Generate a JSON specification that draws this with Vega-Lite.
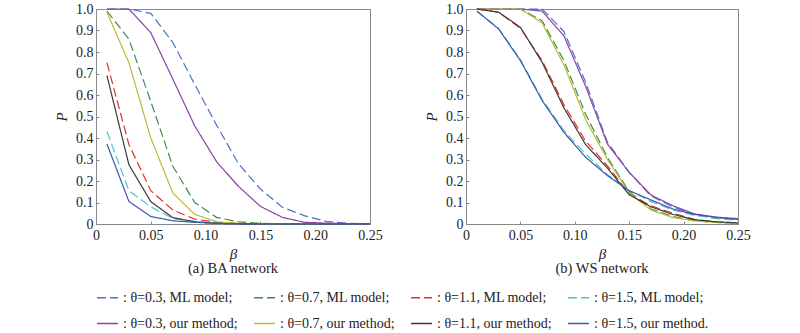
{
  "$schema": "https://vega.github.io/schema/vega-lite/v6.json",
  "padding": {"left": 54, "top": 1, "right": 10, "bottom": 0},
  "background": "white",
  "datasets": {
    "BA": [
      {"series": ": θ=0.3, ML model;", "beta": 0.01, "P": 1.0},
      {"series": ": θ=0.3, ML model;", "beta": 0.03, "P": 1.0},
      {"series": ": θ=0.3, ML model;", "beta": 0.05, "P": 0.98},
      {"series": ": θ=0.3, ML model;", "beta": 0.07, "P": 0.845},
      {"series": ": θ=0.3, ML model;", "beta": 0.09, "P": 0.65},
      {"series": ": θ=0.3, ML model;", "beta": 0.11, "P": 0.46},
      {"series": ": θ=0.3, ML model;", "beta": 0.13, "P": 0.28},
      {"series": ": θ=0.3, ML model;", "beta": 0.15, "P": 0.163},
      {"series": ": θ=0.3, ML model;", "beta": 0.17, "P": 0.078},
      {"series": ": θ=0.3, ML model;", "beta": 0.19, "P": 0.039},
      {"series": ": θ=0.3, ML model;", "beta": 0.21, "P": 0.012},
      {"series": ": θ=0.3, ML model;", "beta": 0.23, "P": 0.003},
      {"series": ": θ=0.3, ML model;", "beta": 0.25, "P": 0.001},
      {"series": ": θ=0.7, ML model;", "beta": 0.01, "P": 0.99},
      {"series": ": θ=0.7, ML model;", "beta": 0.03, "P": 0.86},
      {"series": ": θ=0.7, ML model;", "beta": 0.05, "P": 0.57},
      {"series": ": θ=0.7, ML model;", "beta": 0.07, "P": 0.27},
      {"series": ": θ=0.7, ML model;", "beta": 0.09, "P": 0.1},
      {"series": ": θ=0.7, ML model;", "beta": 0.11, "P": 0.031},
      {"series": ": θ=0.7, ML model;", "beta": 0.13, "P": 0.01},
      {"series": ": θ=0.7, ML model;", "beta": 0.15, "P": 0.003},
      {"series": ": θ=0.7, ML model;", "beta": 0.17, "P": 0.001},
      {"series": ": θ=0.7, ML model;", "beta": 0.19, "P": 0},
      {"series": ": θ=0.7, ML model;", "beta": 0.21, "P": 0},
      {"series": ": θ=0.7, ML model;", "beta": 0.23, "P": 0},
      {"series": ": θ=0.7, ML model;", "beta": 0.25, "P": 0},
      {"series": ": θ=1.1, ML model;", "beta": 0.01, "P": 0.75},
      {"series": ": θ=1.1, ML model;", "beta": 0.03, "P": 0.37},
      {"series": ": θ=1.1, ML model;", "beta": 0.05, "P": 0.155},
      {"series": ": θ=1.1, ML model;", "beta": 0.07, "P": 0.065},
      {"series": ": θ=1.1, ML model;", "beta": 0.09, "P": 0.023},
      {"series": ": θ=1.1, ML model;", "beta": 0.11, "P": 0.008},
      {"series": ": θ=1.1, ML model;", "beta": 0.13, "P": 0.003},
      {"series": ": θ=1.1, ML model;", "beta": 0.15, "P": 0.001},
      {"series": ": θ=1.1, ML model;", "beta": 0.17, "P": 0},
      {"series": ": θ=1.1, ML model;", "beta": 0.19, "P": 0},
      {"series": ": θ=1.1, ML model;", "beta": 0.21, "P": 0},
      {"series": ": θ=1.1, ML model;", "beta": 0.23, "P": 0},
      {"series": ": θ=1.1, ML model;", "beta": 0.25, "P": 0},
      {"series": ": θ=1.5, ML model;", "beta": 0.01, "P": 0.43},
      {"series": ": θ=1.5, ML model;", "beta": 0.03, "P": 0.155},
      {"series": ": θ=1.5, ML model;", "beta": 0.05, "P": 0.08},
      {"series": ": θ=1.5, ML model;", "beta": 0.07, "P": 0.025},
      {"series": ": θ=1.5, ML model;", "beta": 0.09, "P": 0.012},
      {"series": ": θ=1.5, ML model;", "beta": 0.11, "P": 0.005},
      {"series": ": θ=1.5, ML model;", "beta": 0.13, "P": 0.002},
      {"series": ": θ=1.5, ML model;", "beta": 0.15, "P": 0.001},
      {"series": ": θ=1.5, ML model;", "beta": 0.17, "P": 0},
      {"series": ": θ=1.5, ML model;", "beta": 0.19, "P": 0},
      {"series": ": θ=1.5, ML model;", "beta": 0.21, "P": 0},
      {"series": ": θ=1.5, ML model;", "beta": 0.23, "P": 0},
      {"series": ": θ=1.5, ML model;", "beta": 0.25, "P": 0},
      {"series": ": θ=0.3, our method;", "beta": 0.01, "P": 1.0},
      {"series": ": θ=0.3, our method;", "beta": 0.03, "P": 1.0},
      {"series": ": θ=0.3, our method;", "beta": 0.05, "P": 0.89},
      {"series": ": θ=0.3, our method;", "beta": 0.07, "P": 0.675},
      {"series": ": θ=0.3, our method;", "beta": 0.09, "P": 0.457},
      {"series": ": θ=0.3, our method;", "beta": 0.11, "P": 0.29},
      {"series": ": θ=0.3, our method;", "beta": 0.13, "P": 0.175},
      {"series": ": θ=0.3, our method;", "beta": 0.15, "P": 0.082},
      {"series": ": θ=0.3, our method;", "beta": 0.17, "P": 0.031},
      {"series": ": θ=0.3, our method;", "beta": 0.19, "P": 0.008},
      {"series": ": θ=0.3, our method;", "beta": 0.21, "P": 0.004},
      {"series": ": θ=0.3, our method;", "beta": 0.23, "P": 0.002},
      {"series": ": θ=0.3, our method;", "beta": 0.25, "P": 0.001},
      {"series": ": θ=0.7, our method;", "beta": 0.01, "P": 0.985},
      {"series": ": θ=0.7, our method;", "beta": 0.03, "P": 0.75},
      {"series": ": θ=0.7, our method;", "beta": 0.05, "P": 0.4},
      {"series": ": θ=0.7, our method;", "beta": 0.07, "P": 0.145},
      {"series": ": θ=0.7, our method;", "beta": 0.09, "P": 0.045},
      {"series": ": θ=0.7, our method;", "beta": 0.11, "P": 0.01},
      {"series": ": θ=0.7, our method;", "beta": 0.13, "P": 0.003},
      {"series": ": θ=0.7, our method;", "beta": 0.15, "P": 0.001},
      {"series": ": θ=0.7, our method;", "beta": 0.17, "P": 0},
      {"series": ": θ=0.7, our method;", "beta": 0.19, "P": 0},
      {"series": ": θ=0.7, our method;", "beta": 0.21, "P": 0},
      {"series": ": θ=0.7, our method;", "beta": 0.23, "P": 0},
      {"series": ": θ=0.7, our method;", "beta": 0.25, "P": 0},
      {"series": ": θ=1.1, our method;", "beta": 0.01, "P": 0.69},
      {"series": ": θ=1.1, our method;", "beta": 0.03, "P": 0.276},
      {"series": ": θ=1.1, our method;", "beta": 0.05, "P": 0.104},
      {"series": ": θ=1.1, our method;", "beta": 0.07, "P": 0.03},
      {"series": ": θ=1.1, our method;", "beta": 0.09, "P": 0.01},
      {"series": ": θ=1.1, our method;", "beta": 0.11, "P": 0.003},
      {"series": ": θ=1.1, our method;", "beta": 0.13, "P": 0.001},
      {"series": ": θ=1.1, our method;", "beta": 0.15, "P": 0},
      {"series": ": θ=1.1, our method;", "beta": 0.17, "P": 0},
      {"series": ": θ=1.1, our method;", "beta": 0.19, "P": 0},
      {"series": ": θ=1.1, our method;", "beta": 0.21, "P": 0},
      {"series": ": θ=1.1, our method;", "beta": 0.23, "P": 0},
      {"series": ": θ=1.1, our method;", "beta": 0.25, "P": 0},
      {"series": ": θ=1.5, our method.", "beta": 0.01, "P": 0.372},
      {"series": ": θ=1.5, our method.", "beta": 0.03, "P": 0.105},
      {"series": ": θ=1.5, our method.", "beta": 0.05, "P": 0.035},
      {"series": ": θ=1.5, our method.", "beta": 0.07, "P": 0.015},
      {"series": ": θ=1.5, our method.", "beta": 0.09, "P": 0.008},
      {"series": ": θ=1.5, our method.", "beta": 0.11, "P": 0.003},
      {"series": ": θ=1.5, our method.", "beta": 0.13, "P": 0.001},
      {"series": ": θ=1.5, our method.", "beta": 0.15, "P": 0},
      {"series": ": θ=1.5, our method.", "beta": 0.17, "P": 0},
      {"series": ": θ=1.5, our method.", "beta": 0.19, "P": 0},
      {"series": ": θ=1.5, our method.", "beta": 0.21, "P": 0},
      {"series": ": θ=1.5, our method.", "beta": 0.23, "P": 0},
      {"series": ": θ=1.5, our method.", "beta": 0.25, "P": 0}
    ],
    "WS": [
      {"series": ": θ=0.3, ML model;", "beta": 0.01, "P": 1.0},
      {"series": ": θ=0.3, ML model;", "beta": 0.03, "P": 1.0},
      {"series": ": θ=0.3, ML model;", "beta": 0.05, "P": 1.0},
      {"series": ": θ=0.3, ML model;", "beta": 0.07, "P": 1.0},
      {"series": ": θ=0.3, ML model;", "beta": 0.09, "P": 0.895},
      {"series": ": θ=0.3, ML model;", "beta": 0.11, "P": 0.66},
      {"series": ": θ=0.3, ML model;", "beta": 0.13, "P": 0.38},
      {"series": ": θ=0.3, ML model;", "beta": 0.15, "P": 0.24},
      {"series": ": θ=0.3, ML model;", "beta": 0.17, "P": 0.13},
      {"series": ": θ=0.3, ML model;", "beta": 0.19, "P": 0.08},
      {"series": ": θ=0.3, ML model;", "beta": 0.21, "P": 0.045},
      {"series": ": θ=0.3, ML model;", "beta": 0.23, "P": 0.03},
      {"series": ": θ=0.3, ML model;", "beta": 0.25, "P": 0.022},
      {"series": ": θ=0.7, ML model;", "beta": 0.01, "P": 1.0},
      {"series": ": θ=0.7, ML model;", "beta": 0.03, "P": 1.0},
      {"series": ": θ=0.7, ML model;", "beta": 0.05, "P": 1.0},
      {"series": ": θ=0.7, ML model;", "beta": 0.07, "P": 0.945},
      {"series": ": θ=0.7, ML model;", "beta": 0.09, "P": 0.76},
      {"series": ": θ=0.7, ML model;", "beta": 0.11, "P": 0.51},
      {"series": ": θ=0.7, ML model;", "beta": 0.13, "P": 0.31},
      {"series": ": θ=0.7, ML model;", "beta": 0.15, "P": 0.15},
      {"series": ": θ=0.7, ML model;", "beta": 0.17, "P": 0.07},
      {"series": ": θ=0.7, ML model;", "beta": 0.19, "P": 0.035},
      {"series": ": θ=0.7, ML model;", "beta": 0.21, "P": 0.015},
      {"series": ": θ=0.7, ML model;", "beta": 0.23, "P": 0.007},
      {"series": ": θ=0.7, ML model;", "beta": 0.25, "P": 0.003},
      {"series": ": θ=1.1, ML model;", "beta": 0.01, "P": 1.0},
      {"series": ": θ=1.1, ML model;", "beta": 0.03, "P": 0.985},
      {"series": ": θ=1.1, ML model;", "beta": 0.05, "P": 0.91},
      {"series": ": θ=1.1, ML model;", "beta": 0.07, "P": 0.76},
      {"series": ": θ=1.1, ML model;", "beta": 0.09, "P": 0.555},
      {"series": ": θ=1.1, ML model;", "beta": 0.11, "P": 0.385},
      {"series": ": θ=1.1, ML model;", "beta": 0.13, "P": 0.27},
      {"series": ": θ=1.1, ML model;", "beta": 0.15, "P": 0.14},
      {"series": ": θ=1.1, ML model;", "beta": 0.17, "P": 0.085},
      {"series": ": θ=1.1, ML model;", "beta": 0.19, "P": 0.05},
      {"series": ": θ=1.1, ML model;", "beta": 0.21, "P": 0.022},
      {"series": ": θ=1.1, ML model;", "beta": 0.23, "P": 0.01},
      {"series": ": θ=1.1, ML model;", "beta": 0.25, "P": 0.005},
      {"series": ": θ=1.5, ML model;", "beta": 0.01, "P": 0.99},
      {"series": ": θ=1.5, ML model;", "beta": 0.03, "P": 0.91},
      {"series": ": θ=1.5, ML model;", "beta": 0.05, "P": 0.765},
      {"series": ": θ=1.5, ML model;", "beta": 0.07, "P": 0.58},
      {"series": ": θ=1.5, ML model;", "beta": 0.09, "P": 0.435},
      {"series": ": θ=1.5, ML model;", "beta": 0.11, "P": 0.325},
      {"series": ": θ=1.5, ML model;", "beta": 0.13, "P": 0.23},
      {"series": ": θ=1.5, ML model;", "beta": 0.15, "P": 0.155},
      {"series": ": θ=1.5, ML model;", "beta": 0.17, "P": 0.105},
      {"series": ": θ=1.5, ML model;", "beta": 0.19, "P": 0.065},
      {"series": ": θ=1.5, ML model;", "beta": 0.21, "P": 0.04},
      {"series": ": θ=1.5, ML model;", "beta": 0.23, "P": 0.025},
      {"series": ": θ=1.5, ML model;", "beta": 0.25, "P": 0.018},
      {"series": ": θ=0.3, our method;", "beta": 0.01, "P": 1.0},
      {"series": ": θ=0.3, our method;", "beta": 0.03, "P": 1.0},
      {"series": ": θ=0.3, our method;", "beta": 0.05, "P": 1.0},
      {"series": ": θ=0.3, our method;", "beta": 0.07, "P": 0.99},
      {"series": ": θ=0.3, our method;", "beta": 0.09, "P": 0.875},
      {"series": ": θ=0.3, our method;", "beta": 0.11, "P": 0.64},
      {"series": ": θ=0.3, our method;", "beta": 0.13, "P": 0.372},
      {"series": ": θ=0.3, our method;", "beta": 0.15, "P": 0.24},
      {"series": ": θ=0.3, our method;", "beta": 0.17, "P": 0.135},
      {"series": ": θ=0.3, our method;", "beta": 0.19, "P": 0.085},
      {"series": ": θ=0.3, our method;", "beta": 0.21, "P": 0.047},
      {"series": ": θ=0.3, our method;", "beta": 0.23, "P": 0.032},
      {"series": ": θ=0.3, our method;", "beta": 0.25, "P": 0.025},
      {"series": ": θ=0.7, our method;", "beta": 0.01, "P": 1.0},
      {"series": ": θ=0.7, our method;", "beta": 0.03, "P": 1.0},
      {"series": ": θ=0.7, our method;", "beta": 0.05, "P": 1.0},
      {"series": ": θ=0.7, our method;", "beta": 0.07, "P": 0.935},
      {"series": ": θ=0.7, our method;", "beta": 0.09, "P": 0.74},
      {"series": ": θ=0.7, our method;", "beta": 0.11, "P": 0.485},
      {"series": ": θ=0.7, our method;", "beta": 0.13, "P": 0.3},
      {"series": ": θ=0.7, our method;", "beta": 0.15, "P": 0.145},
      {"series": ": θ=0.7, our method;", "beta": 0.17, "P": 0.065},
      {"series": ": θ=0.7, our method;", "beta": 0.19, "P": 0.03},
      {"series": ": θ=0.7, our method;", "beta": 0.21, "P": 0.015},
      {"series": ": θ=0.7, our method;", "beta": 0.23, "P": 0.007},
      {"series": ": θ=0.7, our method;", "beta": 0.25, "P": 0.003},
      {"series": ": θ=1.1, our method;", "beta": 0.01, "P": 1.0},
      {"series": ": θ=1.1, our method;", "beta": 0.03, "P": 0.985},
      {"series": ": θ=1.1, our method;", "beta": 0.05, "P": 0.915},
      {"series": ": θ=1.1, our method;", "beta": 0.07, "P": 0.752},
      {"series": ": θ=1.1, our method;", "beta": 0.09, "P": 0.54},
      {"series": ": θ=1.1, our method;", "beta": 0.11, "P": 0.369},
      {"series": ": θ=1.1, our method;", "beta": 0.13, "P": 0.26},
      {"series": ": θ=1.1, our method;", "beta": 0.15, "P": 0.136},
      {"series": ": θ=1.1, our method;", "beta": 0.17, "P": 0.08},
      {"series": ": θ=1.1, our method;", "beta": 0.19, "P": 0.045},
      {"series": ": θ=1.1, our method;", "beta": 0.21, "P": 0.02},
      {"series": ": θ=1.1, our method;", "beta": 0.23, "P": 0.01},
      {"series": ": θ=1.1, our method;", "beta": 0.25, "P": 0.005},
      {"series": ": θ=1.5, our method.", "beta": 0.01, "P": 0.99},
      {"series": ": θ=1.5, our method.", "beta": 0.03, "P": 0.907},
      {"series": ": θ=1.5, our method.", "beta": 0.05, "P": 0.76},
      {"series": ": θ=1.5, our method.", "beta": 0.07, "P": 0.574},
      {"series": ": θ=1.5, our method.", "beta": 0.09, "P": 0.426},
      {"series": ": θ=1.5, our method.", "beta": 0.11, "P": 0.31},
      {"series": ": θ=1.5, our method.", "beta": 0.13, "P": 0.225},
      {"series": ": θ=1.5, our method.", "beta": 0.15, "P": 0.155},
      {"series": ": θ=1.5, our method.", "beta": 0.17, "P": 0.112},
      {"series": ": θ=1.5, our method.", "beta": 0.19, "P": 0.07},
      {"series": ": θ=1.5, our method.", "beta": 0.21, "P": 0.045},
      {"series": ": θ=1.5, our method.", "beta": 0.23, "P": 0.03},
      {"series": ": θ=1.5, our method.", "beta": 0.25, "P": 0.022}
    ]
  },
  "hconcat": [
    {
      "width": 274,
      "height": 215,
      "data": {"name": "BA"},
      "title": {"text": "(a) BA network", "orient": "bottom", "offset": 1},
      "mark": {"type": "line", "strokeWidth": 1.2},
      "encoding": {
        "x": {"field": "beta", "type": "quantitative", "scale": {"domain": [0, 0.25], "nice": false}, "axis": {"title": "β", "values": [0, 0.05, 0.1, 0.15, 0.2, 0.25], "labelExpr": "datum.value == 0 ? '0' : format(datum.value, '.2f')"}},
        "y": {"field": "P", "type": "quantitative", "scale": {"domain": [0, 1], "nice": false}, "axis": {"title": "P", "values": [0, 0.1, 0.2, 0.3, 0.4, 0.5, 0.6, 0.7, 0.8, 0.9, 1], "labelExpr": "datum.value == 0 ? '0' : format(datum.value, '.1f')"}},
        "color": {"field": "series", "type": "nominal", "scale": {"domain": [": θ=0.3, ML model;", ": θ=0.7, ML model;", ": θ=1.1, ML model;", ": θ=1.5, ML model;", ": θ=0.3, our method;", ": θ=0.7, our method;", ": θ=1.1, our method;", ": θ=1.5, our method."], "range": ["#4a72c6", "#3f8c46", "#e2302c", "#50c4c4", "#8a42a6", "#b7bd3a", "#3a3a3a", "#3b58ac"]}},
        "strokeDash": {"field": "series", "type": "nominal", "scale": {"domain": [": θ=0.3, ML model;", ": θ=0.7, ML model;", ": θ=1.1, ML model;", ": θ=1.5, ML model;", ": θ=0.3, our method;", ": θ=0.7, our method;", ": θ=1.1, our method;", ": θ=1.5, our method."], "range": [[9, 4], [9, 4], [9, 4], [9, 4], [1, 0], [1, 0], [1, 0], [1, 0]]}}
      }
    },
    {
      "width": 272,
      "height": 215,
      "data": {"name": "WS"},
      "title": {"text": "(b) WS network", "orient": "bottom", "offset": 1},
      "mark": {"type": "line", "strokeWidth": 1.2},
      "encoding": {
        "x": {"field": "beta", "type": "quantitative", "scale": {"domain": [0, 0.25], "nice": false}, "axis": {"title": "β", "values": [0, 0.05, 0.1, 0.15, 0.2, 0.25], "labelExpr": "datum.value == 0 ? '0' : format(datum.value, '.2f')"}},
        "y": {"field": "P", "type": "quantitative", "scale": {"domain": [0, 1], "nice": false}, "axis": {"title": "P", "values": [0, 0.1, 0.2, 0.3, 0.4, 0.5, 0.6, 0.7, 0.8, 0.9, 1], "labelExpr": "datum.value == 0 ? '0' : format(datum.value, '.1f')"}},
        "color": {"field": "series", "type": "nominal", "scale": {"domain": [": θ=0.3, ML model;", ": θ=0.7, ML model;", ": θ=1.1, ML model;", ": θ=1.5, ML model;", ": θ=0.3, our method;", ": θ=0.7, our method;", ": θ=1.1, our method;", ": θ=1.5, our method."], "range": ["#4a72c6", "#3f8c46", "#e2302c", "#50c4c4", "#8a42a6", "#b7bd3a", "#3a3a3a", "#3b58ac"]}},
        "strokeDash": {"field": "series", "type": "nominal", "scale": {"domain": [": θ=0.3, ML model;", ": θ=0.7, ML model;", ": θ=1.1, ML model;", ": θ=1.5, ML model;", ": θ=0.3, our method;", ": θ=0.7, our method;", ": θ=1.1, our method;", ": θ=1.5, our method."], "range": [[9, 4], [9, 4], [9, 4], [9, 4], [1, 0], [1, 0], [1, 0], [1, 0]]}}
      }
    }
  ],
  "spacing": 41,
  "resolve": {"scale": {"color": "shared", "strokeDash": "shared"}},
  "config": {
    "font": "Liberation Serif",
    "view": {"stroke": "#8a8a8a", "strokeWidth": 1},
    "axis": {
      "grid": false,
      "domainColor": "#8a8a8a",
      "tickColor": "#8a8a8a",
      "tickSize": -3,
      "labelFlush": false,
      "labelFont": "Liberation Serif",
      "labelFontSize": 14,
      "labelColor": "#222222",
      "labelPadding": 6,
      "titleFont": "Liberation Serif",
      "titleFontSize": 15,
      "titleFontStyle": "italic",
      "titleFontWeight": "normal",
      "titleColor": "#222222"
    },
    "axisY": {"titlePadding": 6},
    "axisX": {"titlePadding": 4, "labelPadding": 7},
    "title": {"font": "Liberation Serif", "fontSize": 14.5, "fontWeight": "normal", "color": "#222222"},
    "legend": {
      "orient": "bottom",
      "direction": "horizontal",
      "columns": 4,
      "title": null,
      "symbolType": "stroke",
      "symbolSize": 440,
      "symbolStrokeWidth": 1.3,
      "labelFont": "Liberation Serif",
      "labelFontSize": 14,
      "labelColor": "#222222",
      "labelLimit": 0,
      "labelOffset": 4,
      "rowPadding": 7,
      "columnPadding": 13,
      "offset": 10,
      "layout": {"bottom": {"anchor": "middle"}}
    }
  }
}
